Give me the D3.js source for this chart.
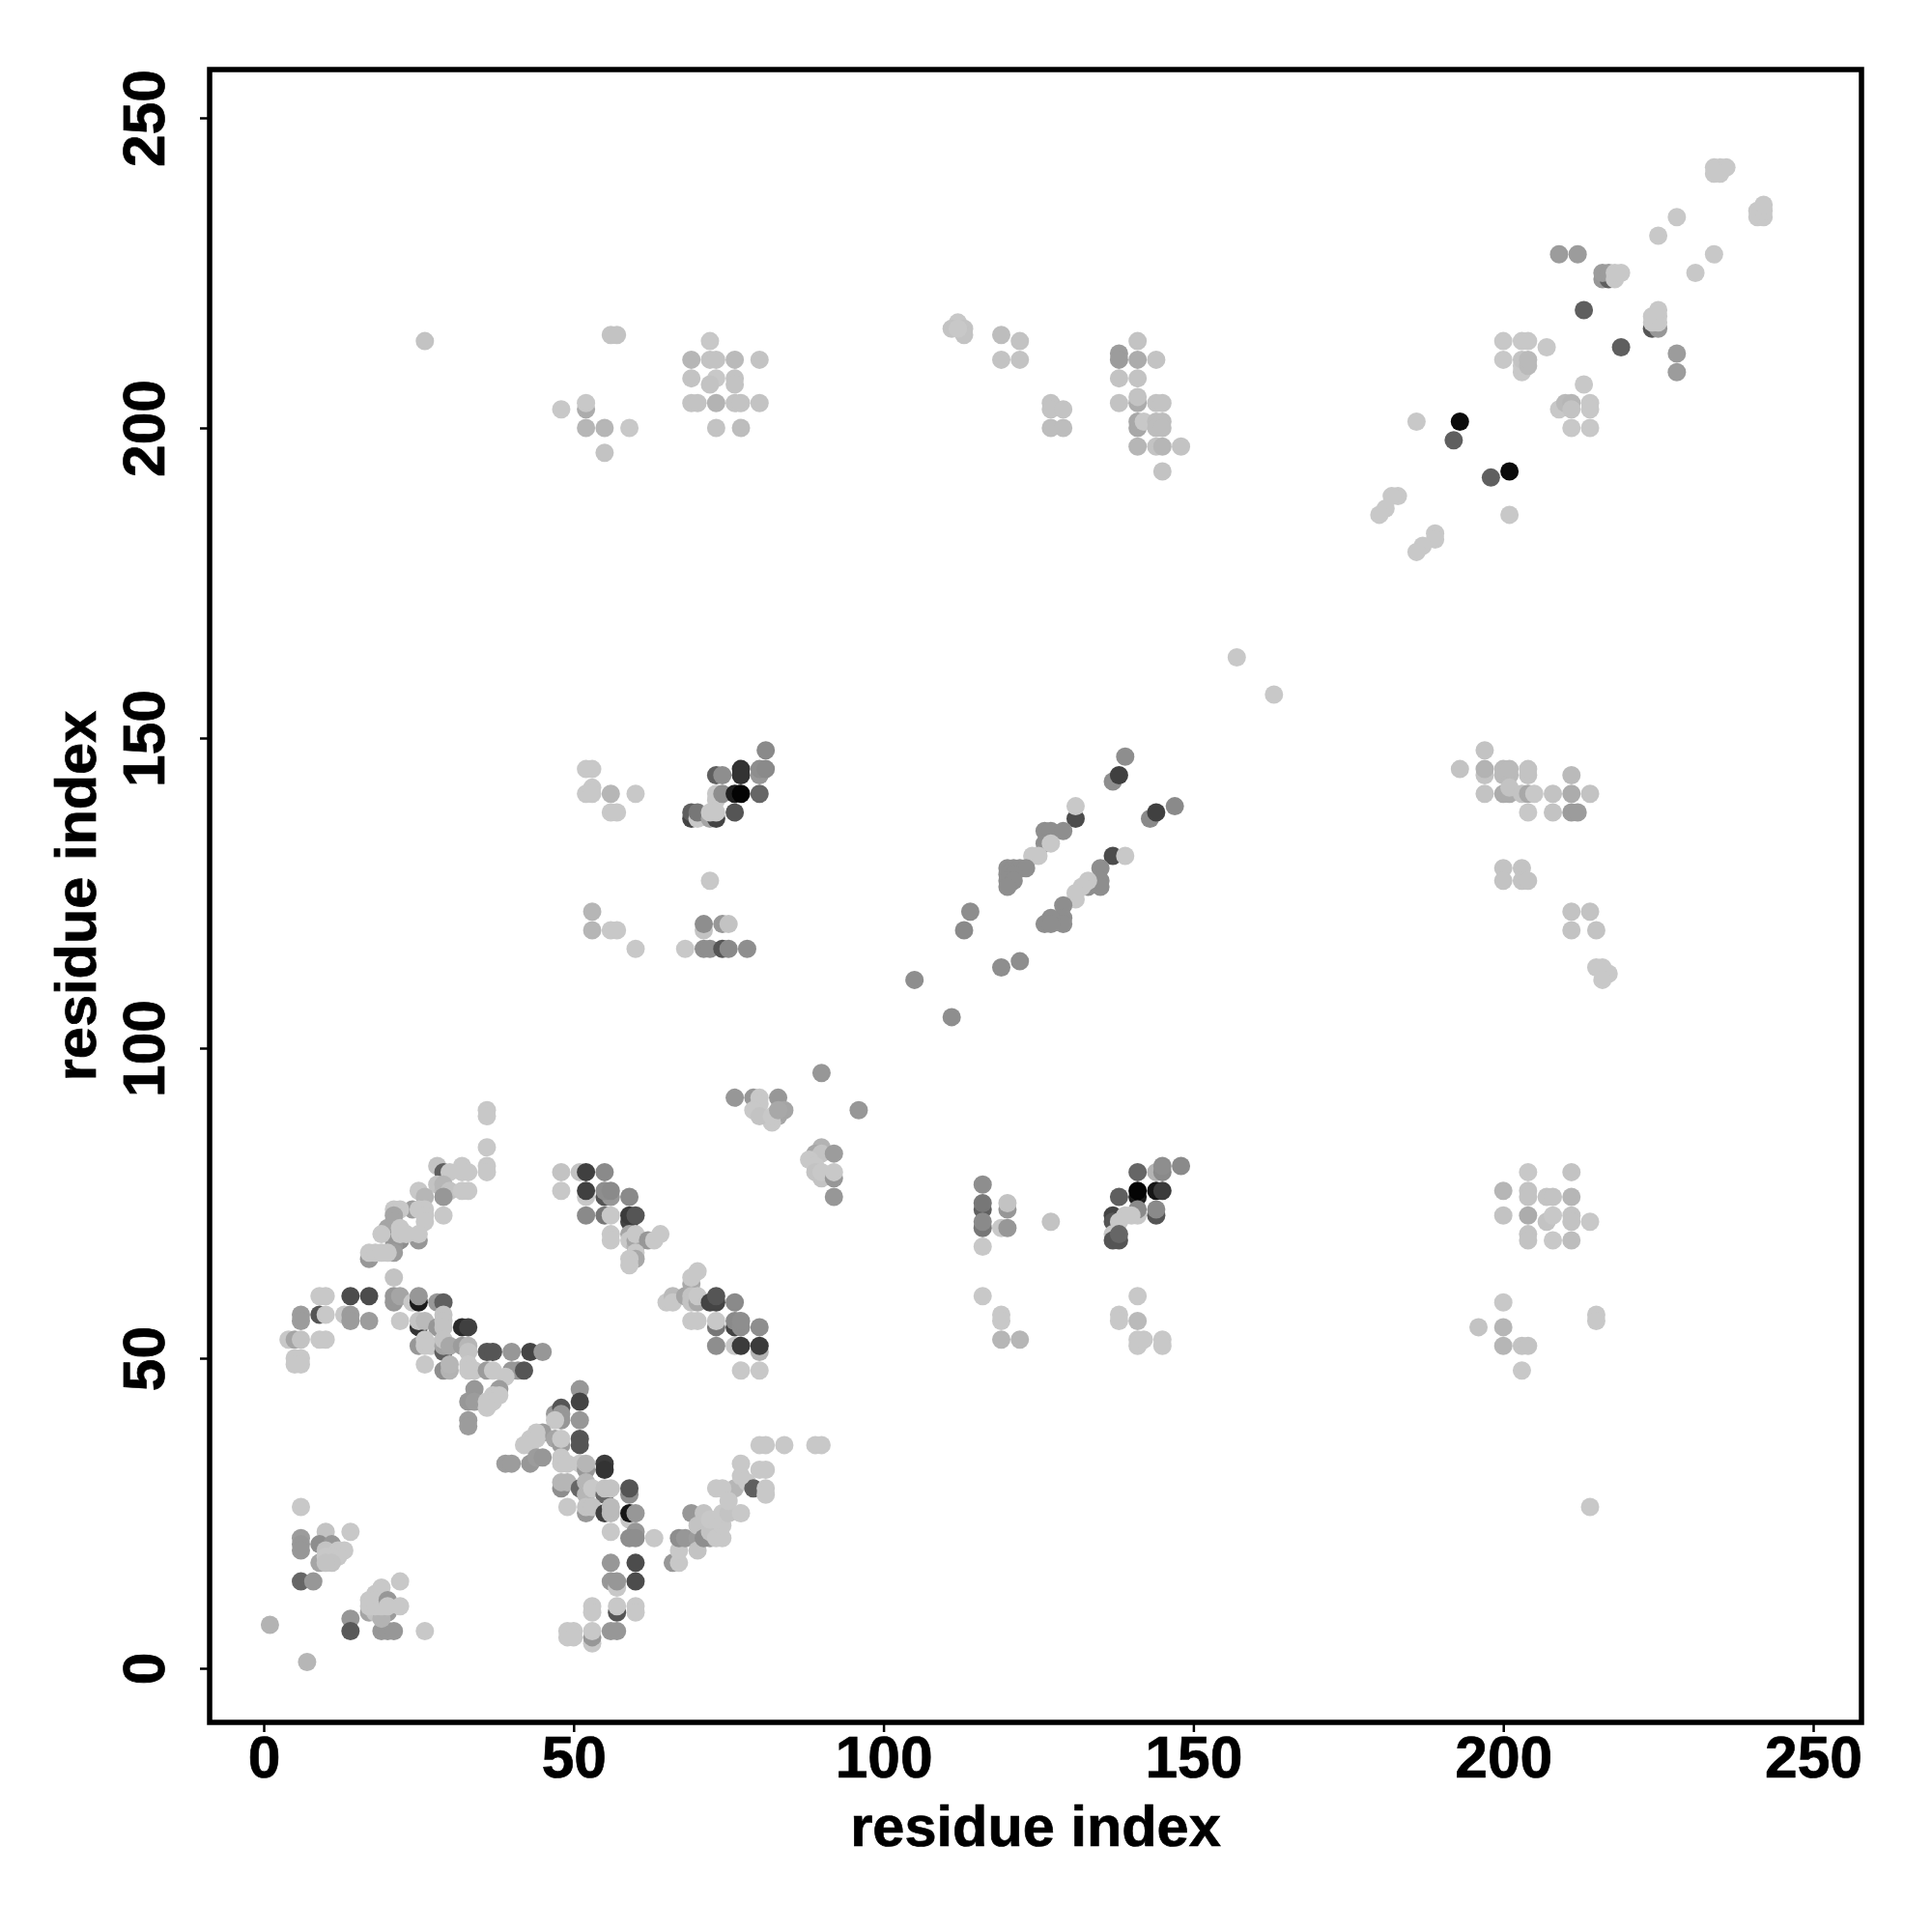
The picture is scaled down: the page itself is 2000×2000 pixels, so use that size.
<!DOCTYPE html>
<html><head><meta charset="utf-8">
<script src="https://cdn.jsdelivr.net/npm/d3@7"></script>
<style>html,body{margin:0;background:#fff}svg{display:block}text{font-family:"Liberation Sans",Arial,sans-serif;font-weight:700;fill:#000;stroke:#000;stroke-width:0.7px}</style>
</head><body><div id="c"></div>
<script>
// each contact: [residue i, residue j, strength 0..100]
const ticks=[0,50,100,150,200,250];
const lowLeft=[[1,7,12],[7,1,10],[6,26,0],[6,21,25],[6,20,28],[6,19,28],[10,22,3],[14,22,0],[9,20,33],[11,20,28],[9,17,20],[10,19,2],[12,19,0],[13,19,0],[12,18,0],[11,18,0],[10,18,0],[11,17,3],[10,17,3],[6,14,52],[8,14,28],[14,8,28],[14,6,58],[19,6,28],[20,6,28],[21,6,28],[26,6,0],[22,14,0],[17,9,20],[18,9,3],[20,9,25],[19,8,12],[17,11,0],[17,10,0],[18,12,0],[19,13,0],[18,11,0],[18,10,0],[19,11,0],[19,10,0],[20,11,28],[20,10,0],[22,10,0]];
const band50=[[9,60,0],[10,60,0],[14,60,64],[17,60,64],[21,63,3],[21,59,28],[21,60,28],[22,60,20],[24,59,0],[25,59,87],[25,60,28],[28,59,28],[29,59,55],[6,57,25],[6,56,25],[9,57,60],[10,57,0],[13,57,0],[14,57,25],[14,56,25],[17,56,25],[22,56,0],[25,55,76],[25,56,3],[26,56,8],[28,55,28],[29,57,3],[29,56,3],[29,55,3],[32,55,80],[33,55,70],[4,53,0],[5,53,20],[6,53,3],[9,53,0],[10,53,0],[5,50,0],[6,50,0],[5,49,0],[6,49,0],[25,52,28],[26,53,0],[26,52,0],[27,52,0],[29,51,55],[29,52,20],[29,53,3],[30,52,18],[32,52,25],[33,52,10],[33,51,3],[26,49,0],[29,48,33],[30,48,12],[30,49,10],[33,49,0],[33,48,0],[34,48,0],[36,48,25],[37,48,0],[36,51,60],[37,51,60],[40,51,28],[43,51,68],[45,51,28],[40,48,28],[41,48,28],[42,48,60],[39,47,0],[34,45,28],[38,45,25],[37,44,0],[38,44,0],[33,43,28],[34,43,25],[36,43,0],[37,43,0],[36,42,0],[33,40,25],[33,39,25]];
const band40=[[51,45,28],[51,43,68],[47,41,28],[48,42,60],[48,41,28],[48,40,28],[47,40,0],[51,40,28],[51,37,60],[51,36,60],[45,38,25],[44,38,0],[43,37,0],[42,36,0],[43,36,0],[44,37,0],[47,37,20],[48,36,25],[48,37,0],[39,33,25],[40,33,25],[43,33,28],[44,34,25],[45,34,28],[48,34,0],[48,33,0],[49,33,0],[51,33,0],[52,32,28],[52,33,10],[55,33,72],[55,32,76],[48,29,33],[48,30,10],[49,30,10],[51,29,52],[52,30,10],[52,28,10],[53,29,0],[55,28,52],[55,29,3],[56,29,3],[59,28,33],[59,29,60],[49,26,0],[52,25,28],[52,26,3],[53,26,3],[55,25,70],[56,25,8],[56,26,8],[59,24,0],[59,25,90],[60,25,28],[56,22,0],[60,22,28],[59,21,33],[60,21,33],[63,21,0]];
const low60=[[56,17,28],[60,17,64],[56,14,28],[57,13,0],[57,14,28],[60,14,64],[53,10,0],[53,9,0],[57,9,60],[57,10,0],[60,10,0],[60,9,0],[49,6,0],[50,6,0],[49,5,0],[50,5,0],[53,4,0],[53,5,28],[53,6,0],[56,6,28],[57,6,28]];
const rising=[[66,17,28],[67,17,0],[67,19,0],[67,21,33],[68,21,28],[69,25,28],[71,25,3],[70,21,25],[72,21,25],[70,23,3],[70,19,3],[71,21,33],[72,22,3],[73,21,0],[74,21,0],[74,23,0],[72,24,0],[73,24,0],[74,25,0],[75,25,3],[77,25,0],[76,29,10],[73,29,0],[74,29,0],[75,27,0],[78,30,0],[79,29,55],[77,31,0],[77,33,0],[80,32,0],[81,32,0],[81,29,0],[81,28,0],[80,36,0],[81,36,0],[84,36,0],[89,36,0],[90,36,0]];
const diag80=[[36,90,0],[36,89,0],[36,84,0],[36,81,0],[36,80,0],[28,81,3],[29,80,55],[30,80,0],[32,81,0],[32,80,0],[33,80,0],[28,78,3],[29,77,8],[29,78,10],[30,77,3],[32,77,0],[33,77,0],[25,77,0],[29,76,28],[26,76,10],[29,73,0],[24,74,25],[25,74,0],[21,74,0],[22,74,0],[26,74,0],[26,73,0],[26,72,0],[21,73,20],[20,71,20],[21,72,20],[25,69,28],[21,69,28],[22,69,33],[21,68,28],[21,67,25],[22,71,0],[22,70,0],[23,70,0],[25,70,0],[19,70,0],[17,66,28],[17,67,0],[18,67,0],[19,67,0],[20,67,0]];
const mid70=[[48,80,3],[51,80,3],[52,80,70],[55,80,35],[48,77,0],[52,76,0],[52,77,70],[55,76,60],[56,76,28],[55,77,33],[56,77,35],[59,76,35],[52,73,35],[55,73,44],[56,73,0],[59,72,68],[59,73,72],[60,73,60],[56,70,0],[56,69,0],[59,70,20],[59,69,0],[60,68,12],[60,69,20],[60,70,0],[62,69,28],[63,69,0],[64,70,0],[60,67,0],[60,66,18],[59,66,0],[59,65,0]];
const upper90=[[90,96,28],[96,90,28],[76,92,28],[79,92,28],[80,92,0],[80,91,0],[83,92,28],[84,90,20],[83,89,20],[82,88,0],[79,90,0],[80,89,3],[82,89,0],[83,90,18],[90,84,12],[89,83,18],[90,83,3],[92,83,25],[88,82,0],[89,81,0],[89,80,3],[90,79,3],[90,80,0],[92,79,28],[92,80,0],[92,76,28]];
const mid60=[[65,59,0],[66,60,8],[66,59,0],[68,60,20],[69,62,18],[69,63,0],[70,64,0],[69,60,3],[69,59,3],[70,59,18],[70,60,0],[72,59,68],[73,59,68],[73,60,60],[76,59,35],[69,56,0],[70,56,0],[73,55,44],[73,56,0],[76,55,68],[76,56,35],[77,55,33],[77,56,33],[80,55,33],[73,52,33],[76,52,0],[77,52,72],[80,51,12],[80,52,72],[77,48,0],[80,48,0]];
const mid116=[[116,78,33],[116,74,55],[116,75,44],[116,71,44],[116,72,35],[116,68,0],[120,74,28],[120,75,3],[119,71,0],[120,71,28],[127,72,3],[141,80,52],[144,80,12],[145,80,35],[145,81,33],[148,81,35],[138,76,55],[141,76,87],[141,77,98],[144,77,90],[145,77,72],[141,73,0],[144,73,60],[137,73,68],[137,72,60],[141,74,35],[144,74,35],[139,73,0],[140,73,0],[138,72,0],[137,70,0],[137,69,60],[138,69,60],[138,70,52],[116,60,0],[119,57,0],[119,56,0],[119,53,10],[122,53,10],[141,60,0],[138,57,0],[138,56,0],[141,56,8],[141,53,0],[141,52,0],[142,53,0],[145,53,0],[145,52,0]];
const up140=[[52,145,0],[53,145,0],[53,142,0],[52,141,0],[53,141,0],[56,141,10],[60,141,0],[56,138,0],[57,138,0],[53,122,10],[53,119,10],[56,119,0],[57,119,0],[60,116,0],[81,148,35],[73,144,55],[74,144,33],[77,145,76],[77,144,76],[80,144,28],[80,145,33],[81,145,35],[73,140,0],[73,141,0],[74,141,33],[76,141,85],[77,141,98],[80,141,52],[69,137,68],[69,138,55],[70,137,0],[70,138,44],[72,137,20],[73,137,68],[72,138,0],[73,138,0],[76,138,60],[72,127,0],[71,119,3],[71,120,33],[74,120,28],[75,120,3],[68,116,0],[71,116,33],[72,116,33],[74,116,60],[75,116,35],[78,116,33]];
const strands=[[139,147,33],[137,143,33],[138,144,70],[147,139,35],[143,137,35],[144,138,70],[131,137,64],[131,139,0],[126,135,33],[127,135,33],[129,135,33],[126,133,33],[127,133,0],[124,131,0],[125,131,0],[120,129,33],[121,129,33],[122,129,33],[123,129,33],[120,128,33],[121,128,33],[120,127,33],[121,127,33],[120,126,33],[114,122,33],[113,119,35],[137,131,64],[139,131,0],[135,129,33],[135,127,33],[135,126,33],[133,126,33],[133,127,0],[132,126,0],[131,125,0],[131,124,0],[129,123,33],[129,121,33],[129,120,33],[127,121,33],[126,120,33],[127,120,33],[119,113,33],[122,114,33],[105,111,33],[111,105,33]];
const right140=[[197,148,3],[193,145,3],[197,144,3],[197,145,12],[197,141,3],[200,144,8],[201,144,8],[200,145,8],[201,145,8],[200,141,16],[201,141,16],[201,142,3],[204,144,3],[204,145,3],[203,141,3],[204,141,18],[205,141,0],[204,138,0],[208,141,3],[208,138,3],[211,144,8],[211,141,16],[214,141,3],[211,138,25],[212,138,25],[200,129,3],[203,129,3],[200,127,3],[203,127,3],[204,127,3],[211,122,3],[214,122,3],[211,119,3],[215,119,3],[215,113,0],[216,113,0],[217,112,0],[216,111,0]];
const right70=[[204,80,0],[211,80,3],[200,77,10],[204,77,3],[204,76,3],[207,76,3],[208,76,3],[211,76,10],[200,73,3],[204,73,16],[207,72,3],[208,73,0],[211,73,3],[211,72,3],[214,72,0],[204,70,3],[204,69,3],[208,69,0],[211,69,6],[200,59,0],[196,55,3],[200,55,10],[200,52,10],[203,52,3],[204,52,3],[203,48,0],[215,57,0],[215,56,0],[214,26,0]];
const top50=[[56,215,3],[57,215,3],[48,203,0],[52,203,16],[52,204,0],[52,200,10],[55,200,10],[59,200,0],[55,196,3],[72,214,0],[69,211,10],[72,211,3],[73,211,3],[76,211,8],[80,211,3],[69,208,3],[73,208,0],[72,207,3],[76,208,3],[76,207,3],[69,204,3],[70,204,3],[73,204,12],[76,204,3],[77,204,3],[80,204,3],[73,200,3],[77,200,6],[26,214,3]];
const top130=[[112,217,0],[111,216,3],[113,216,3],[113,215,3],[112,216,0],[119,215,6],[122,214,3],[119,211,3],[122,211,3],[127,204,3],[127,203,3],[129,203,3],[127,200,6],[129,200,6],[138,212,25],[138,211,25],[141,214,3],[141,211,16],[144,211,3],[138,208,3],[141,208,3],[138,204,3],[141,204,16],[141,205,3],[144,204,3],[145,204,3],[141,200,18],[141,201,18],[142,201,0],[144,201,6],[145,201,6],[144,200,6],[145,200,6],[141,197,10],[144,197,3],[145,197,10],[148,197,3],[145,193,3]];
const topRight=[[234,242,0],[235,242,0],[236,242,0],[234,241,0],[235,241,0],[241,234,0],[242,234,0],[241,235,0],[242,235,0],[242,236,0],[228,234,0],[225,231,0],[234,228,0],[231,225,0],[209,228,25],[212,228,25],[216,224,28],[217,224,55],[216,225,25],[217,225,25],[218,224,0],[218,225,0],[219,225,0],[213,219,55],[219,213,55],[224,216,60],[225,216,28],[224,217,0],[225,217,0],[224,218,0],[225,218,0],[225,219,0],[228,212,25],[228,209,25],[200,214,0],[203,214,0],[204,214,0],[207,213,0],[200,211,0],[203,209,0],[203,210,0],[203,211,3],[204,210,8],[204,211,8],[213,207,0],[209,203,0],[210,204,8],[211,204,10],[211,203,3],[214,204,0],[214,203,0],[211,200,0],[214,200,0],[186,201,0],[193,201,95],[192,198,55],[198,192,55],[201,193,95],[201,186,0],[183,189,0],[182,189,0],[181,187,0],[180,186,0],[189,183,0],[189,182,0],[187,181,0],[186,180,0],[157,163,0],[163,157,0]];

const contacts=[...lowLeft,...band50,...band40,...low60,...rising,...diag80,...mid70,...upper90,...mid60,...mid116,...up140,...strands,...right140,...right70,...top50,...top130,...topRight];

const W=2000,H=2000,L=217,R=1927,T=72,B=1783;
const svg=d3.select('#c').append('svg').attr('width',W).attr('height',H);
const x=d3.scaleLinear().domain([0,250]).range([273,1877]);
const y=d3.scaleLinear().domain([0,250]).range([1727,122]);
const shade=d3.scaleLinear().domain([0,33,100]).range(['#c8c8c8','#8e8e8e','#000']);

svg.append('g').selectAll('circle').data(contacts).join('circle')
  .attr('cx',d=>x(d[0])).attr('cy',d=>y(d[1])).attr('r',9.5).attr('fill',d=>shade(d[2]));

const gx=svg.append('g').attr('transform',`translate(0,${B})`).call(d3.axisBottom(x).tickValues(ticks).tickSize(10).tickPadding(12));
const gy=svg.append('g').attr('transform',`translate(${L},0)`).call(d3.axisLeft(y).tickValues(ticks).tickSize(10));
[gx,gy].forEach(g=>{g.select('.domain').remove();g.selectAll('.tick line').attr('stroke','#000').attr('stroke-width',2.5);
  g.selectAll('text').attr('font-size',60.5).attr('font-family','"Liberation Sans"').attr('font-weight',700).attr('fill','#000');});
gx.selectAll('text').attr('dy',null).attr('y',null).attr('dominant-baseline',null).attr('transform',null).attr('y',57);
gy.selectAll('text').attr('dy',null).attr('x',null).attr('text-anchor','middle').attr('transform','translate(-47,0) rotate(-90)');

svg.append('rect').attr('x',L).attr('y',T).attr('width',R-L).attr('height',B-T).attr('fill','none').attr('stroke','#000').attr('stroke-width',5.5);

svg.append('text').attr('x',(L+R)/2).attr('y',1911).attr('text-anchor','middle').attr('font-size',59.5).text('residue index');
svg.append('text').attr('transform',`translate(99,${(T+B)/2}) rotate(-90)`).attr('text-anchor','middle').attr('font-size',59.5).text('residue index');
</script></body></html>
